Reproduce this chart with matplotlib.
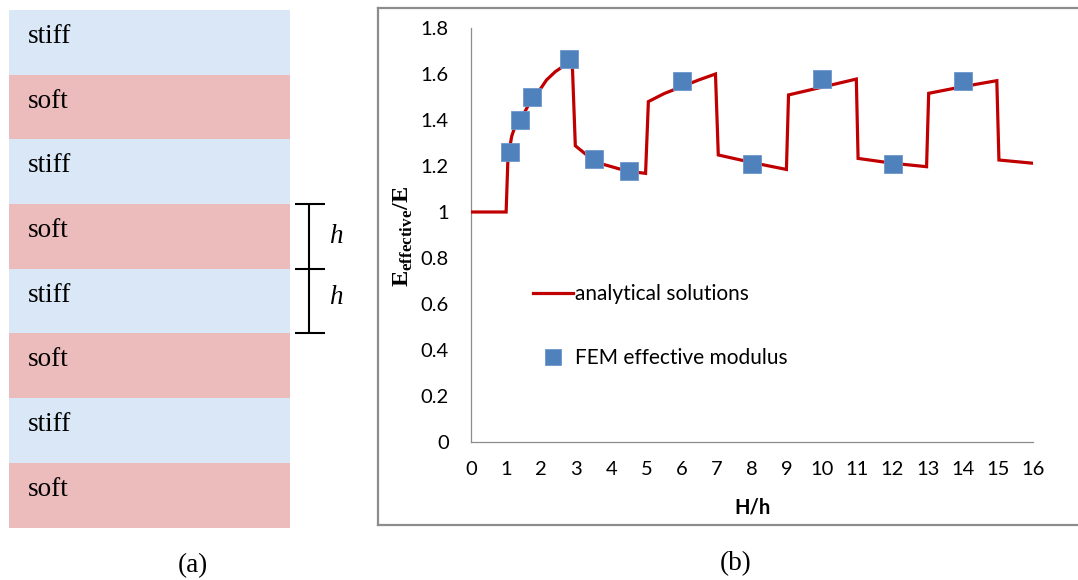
import matplotlib
matplotlib.use("Agg")
import matplotlib.pyplot as plt
from matplotlib.patches import Rectangle
from matplotlib.lines import Line2D

# ---------------- data ----------------
# (a) layer stack, top to bottom
layers = ["stiff", "soft", "stiff", "soft", "stiff", "soft", "stiff", "soft"]

# (b) analytical effective modulus vs. H/h
hh_analytical = [0.0, 1.0, 1.05, 1.08, 1.16, 1.25, 1.41, 1.6, 1.76, 2.0, 2.15, 2.4,
                 2.61, 2.8, 2.88, 2.97, 3.3, 3.68, 4.44, 4.97,
                 5.05, 5.5, 6.0, 6.5, 6.96,
                 7.04, 8.0, 8.98,
                 9.04, 10.0, 10.97,
                 11.02, 12.0, 12.97,
                 13.03, 14.0, 14.97,
                 15.03, 16.0]
e_analytical = [1.0, 1.0, 1.226, 1.26, 1.33, 1.37, 1.40, 1.455, 1.497, 1.54, 1.574, 1.61,
                1.632, 1.655, 1.66, 1.288, 1.247, 1.211, 1.178, 1.168,
                1.48, 1.515, 1.545, 1.575, 1.60,
                1.248, 1.215, 1.185,
                1.509, 1.543, 1.578,
                1.233, 1.212, 1.197,
                1.516, 1.545, 1.571,
                1.226, 1.212]

# (b) FEM effective modulus
hh_fem = [1.1, 1.4, 1.75, 2.8, 3.5, 4.5, 6, 8, 10, 12, 14]
e_fem = [1.26, 1.40, 1.50, 1.665, 1.23, 1.18, 1.57, 1.21, 1.58, 1.21, 1.57]

x_ticks = list(range(0, 17))
y_ticks = [0, 0.2, 0.4, 0.6, 0.8, 1.0, 1.2, 1.4, 1.6, 1.8]
y_tick_labels = ["0", "0.2", "0.4", "0.6", "0.8", "1", "1.2", "1.4", "1.6", "1.8"]

# ---------------- style ----------------
plt.rcParams["mathtext.fontset"] = "custom"
plt.rcParams["mathtext.rm"] = "Liberation Serif"
plt.rcParams["mathtext.bf"] = "Liberation Serif:bold"

W, H = 1078, 580
fig = plt.figure(figsize=(W / 100, H / 100), dpi=100)

# full-figure canvas in pixel units for the diagram, frame and captions
canvas = fig.add_axes([0, 0, 1, 1])
canvas.set_xlim(0, W)
canvas.set_ylim(H, 0)
canvas.axis("off")

stiff_color = "#DAE7F6"
soft_color = "#ECBBBC"
serif = "Liberation Serif"
serif_size = 19.5

top, bottom = 10.0, 527.5
left, right = 9, 290
step = (bottom - top) / len(layers)
for i, name in enumerate(layers):
    y0 = top + i * step
    canvas.add_patch(Rectangle((left, y0), right - left, step,
                               facecolor=stiff_color if name == "stiff" else soft_color,
                               edgecolor="none"))
    canvas.text(28, y0 + 33, name, fontsize=serif_size, family=serif,
                ha="left", va="baseline", color="black")

# thickness bracket beside layers 4 and 5
y_a, y_b, y_c = top + 3 * step, top + 4 * step, top + 5 * step
canvas.plot([309, 309], [y_a, y_c], color="black", lw=1.5, solid_capstyle="butt")
for yy in (y_a, y_b, y_c):
    canvas.plot([295, 325], [yy, yy], color="black", lw=1.5, solid_capstyle="butt")
canvas.text(329, y_a + 39, "h", fontsize=serif_size, family=serif, style="italic",
            ha="left", va="baseline")
canvas.text(329, y_b + 35, "h", fontsize=serif_size, family=serif, style="italic",
            ha="left", va="baseline")

# frame around panel (b)
frame_c = "#8C8C8C"
canvas.plot([378, 378], [8, 525], color=frame_c, lw=1.6)
canvas.plot([378, W], [8, 8], color=frame_c, lw=1.6)
canvas.plot([378, W], [525, 525], color=frame_c, lw=1.6)

# captions
canvas.text(193, 566, "(a)", fontsize=serif_size, family=serif, ha="center", va="center")
canvas.text(736, 564, "(b)", fontsize=serif_size, family=serif, ha="center", va="center")

# ---------------- chart (b) ----------------
ax_l, ax_r, ax_t, ax_b = 471, 1033, 28, 442
ax = fig.add_axes([ax_l / W, (H - ax_b) / H, (ax_r - ax_l) / W, (ax_b - ax_t) / H])
ax.set_xlim(0, 16)
ax.set_ylim(0, 1.8)
ax.patch.set_alpha(0)

ax.plot(hh_analytical, e_analytical, color="#C00000", lw=2.3,
        solid_joinstyle="miter", zorder=3)
ax.plot(hh_fem, e_fem, linestyle="none", marker="s", markersize=12.5,
        markerfacecolor="#4F81BD", markeredgecolor="#6F97CC", markeredgewidth=0.6,
        zorder=4)

for s in ("top", "right"):
    ax.spines[s].set_visible(False)
for s in ("left", "bottom"):
    ax.spines[s].set_color("#8C8C8C")
    ax.spines[s].set_linewidth(0.9)

tick_font = "Lato"
fs = 14.5
ax.set_xticks(x_ticks)
ax.set_xticklabels([str(v) for v in x_ticks], family=tick_font, fontsize=fs)
ax.set_yticks(y_ticks)
ax.set_yticklabels(y_tick_labels, family=tick_font, fontsize=fs)
ax.tick_params(axis="both", length=0, colors="black")
ax.tick_params(axis="y", pad=16)
ax.tick_params(axis="x", pad=14)

canvas.text((ax_l + ax_r) / 2, 507, "H/h", family=tick_font, fontsize=fs,
            weight="bold", ha="center", va="center")
canvas.text(403, 236, r"$\mathbf{E}_{\mathbf{effective}}\mathbf{/E}$", fontsize=17.5,
            rotation=90, ha="center", va="center")

# legend
handles = [Line2D([], [], color="#C00000", lw=2.3),
           Line2D([], [], linestyle="none", marker="s", markersize=11,
                  markerfacecolor="#4F81BD", markeredgecolor="#6F97CC",
                  markeredgewidth=0.6)]
leg = ax.legend(handles, ["analytical solutions", "FEM effective modulus"],
                loc="upper left",
                bbox_to_anchor=((533 - 4 - ax_l) / (ax_r - ax_l), (ax_b - 280) / (ax_b - ax_t)),
                frameon=False, prop={"family": tick_font, "size": 15},
                handlelength=1.9, handletextpad=0.1, labelspacing=2.1,
                borderpad=0.0, borderaxespad=0.2)

fig.savefig("out.png", dpi=100)
